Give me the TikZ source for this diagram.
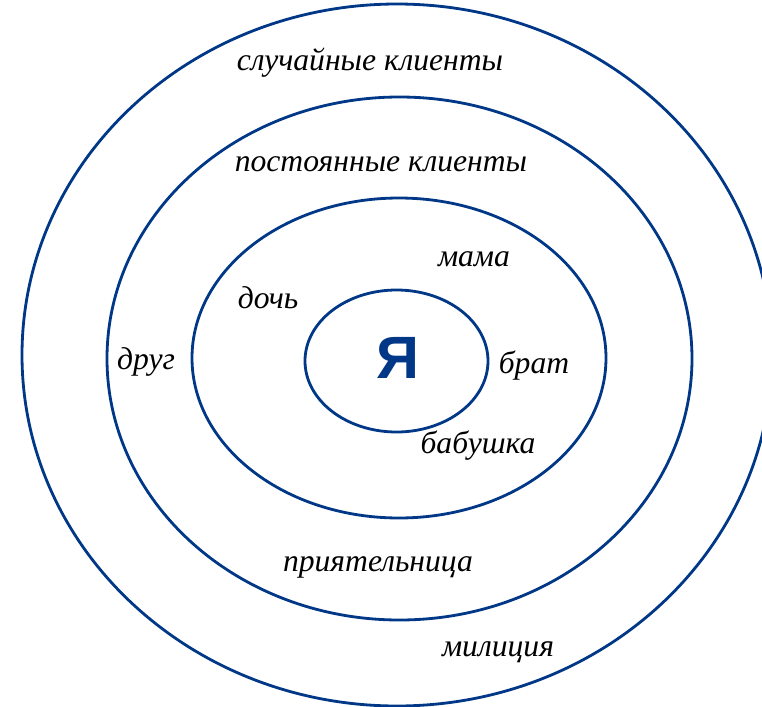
\documentclass[tikz,border=0pt]{standalone}
\usepackage{fontspec}
\setmainfont{Liberation Serif}
\newfontfamily\mefont{Liberation Sans}
\usetikzlibrary{positioning}
\definecolor{RingBlue}{RGB}{0,56,135}

\begin{document}
\begin{tikzpicture}[
        x=0.02cm, y=-0.02cm,
        ring/.style={draw=RingBlue, line width=1.6pt},
        hand/.style={
            font=\itshape\fontsize{18}{21}\selectfont,
            text=black,
            inner sep=0pt
        },
        me/.style={font=\mefont\bfseries\fontsize{34}{36}\selectfont, text=RingBlue}
    ]
    \useasboundingbox (0,0) rectangle (762,707);
    \clip (0,0) rectangle (762,707);

    % Кольца
    \draw[ring] (397,355) ellipse (375 and 351);
    \draw[ring] (399.5,358.5) ellipse (292.5 and 261.5);
    \draw[ring] (399,358) ellipse (207 and 160);
    \draw[ring] (396.5,361) ellipse (91.5 and 71);

    % Центр
    \node[me] (ya) at (398,358) {Я};

    % Подписи
    \node[hand] (sluch) at (370,63) {случайные клиенты};
    \node[hand] (post) at (381,164) {постоянные клиенты};
    \node[hand] (mama) at (474,259) {мама};
    \node[hand] (doch) at (268,298) {дочь};
    \node[hand] (drug) at (146,362) {друг};
    \node[hand] (brat) at (534,366) {брат};
    \node[hand] (babushka) at (478,446) {бабушка};
    \node[hand] (priyat) at (378,567) {приятельница};
    \node[hand] (miliciya) at (498,652) {милиция};

\end{tikzpicture}
\end{document}
